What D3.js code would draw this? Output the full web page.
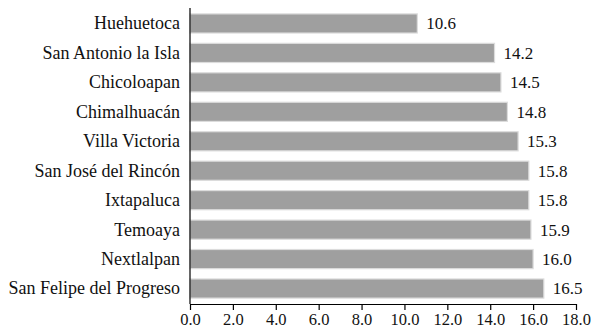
<!DOCTYPE html>
<html><head><meta charset="utf-8">
<script src="https://cdn.jsdelivr.net/npm/d3@7"></script>
<style>body{margin:0;background:#fff}svg text{font-family:'Liberation Serif','Times New Roman',Tinos,serif !important}</style>
</head><body>
<script>
const categories = ["Huehuetoca","San Antonio la Isla","Chicoloapan","Chimalhuacán","Villa Victoria","San José del Rincón","Ixtapaluca","Temoaya","Nextlalpan","San Felipe del Progreso"];
const values = [10.6,14.2,14.5,14.8,15.3,15.8,15.8,15.9,16.0,16.5];
const tickValues = [0,2,4,6,8,10,12,14,16,18];

const FONT = "'Liberation Serif', 'Times New Roman', Tinos, serif";
const W=595,H=330;
const m={left:190,right:19,top:8,bottom:26};
const svg=d3.select("body").append("svg").attr("width",W).attr("height",H).attr("font-family",FONT).style("display","block");
const x=d3.scaleLinear().domain([0,18]).range([m.left,W-m.right]);
const y=d3.scaleBand().domain(categories).range([m.top,H-m.bottom]).paddingInner(0.35).paddingOuter(0.2);

svg.selectAll("rect.bar").data(values).join("rect").attr("class","bar")
  .attr("x",x(0)).attr("y",(d,i)=>y(categories[i]))
  .attr("width",d=>x(d)-x(0)).attr("height",y.bandwidth())
  .attr("fill","#9f9f9f").attr("stroke","#dcdcdc").attr("stroke-width",1.2);

svg.selectAll("text.val").data(values).join("text").attr("class","val")
  .attr("x",d=>x(d)+9).attr("y",(d,i)=>y(categories[i])+y.bandwidth()/2)
  .attr("dy","0.35em").attr("font-family",FONT).attr("font-size",17).attr("fill","#111").text(d=>d.toFixed(1));

svg.selectAll("text.cat").data(categories).join("text").attr("class","cat")
  .attr("x",m.left-10).attr("y",d=>y(d)+y.bandwidth()/2)
  .attr("dy","0.33em").attr("text-anchor","end").attr("font-family",FONT).attr("font-size",18).attr("fill","#111").text(d=>d);

const xa=svg.append("g").attr("transform",`translate(0,${H-m.bottom})`)
  .call(d3.axisBottom(x).tickValues(tickValues).tickFormat(d3.format(".1f")).tickSize(6).tickSizeOuter(0));
xa.attr("font-family",FONT).attr("font-size",16.5);
xa.selectAll("path,line").attr("stroke","#000").attr("stroke-width",1.2);
xa.selectAll("text").attr("font-family",FONT).attr("font-size",16.5).attr("fill","#111").attr("dy","0.95em").attr("y",5);

svg.append("line").attr("x1",x(0)).attr("x2",x(0)).attr("y1",m.top).attr("y2",H-m.bottom).attr("stroke","#000").attr("stroke-width",1.2);
</script></body></html>
